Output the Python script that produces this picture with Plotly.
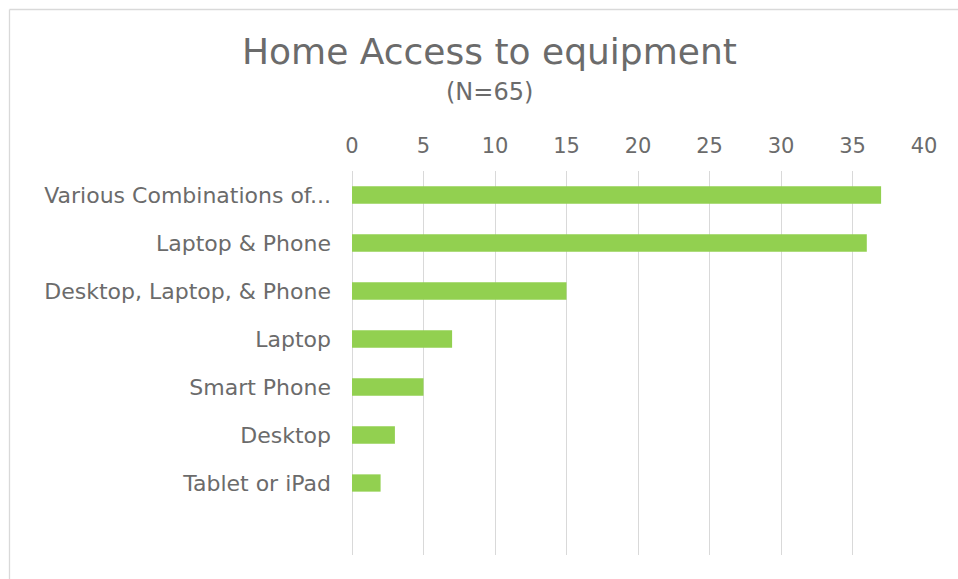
import plotly.graph_objects as go

# Home equipment access survey (N=65)
categories = [
    "Various Combinations of...",
    "Laptop & Phone",
    "Desktop, Laptop, & Phone",
    "Laptop",
    "Smart Phone",
    "Desktop",
    "Tablet or iPad",
]
counts = [37, 36, 15, 7, 5, 3, 2]
x_ticks = [0, 5, 10, 15, 20, 25, 30, 35, 40]

W, H = 958, 579
L, R, T, B = 352, 34, 171, 24
pw, ph = W - L - R, H - T - B

def px_x(p):
    return (p - L) / pw

def px_y(p):
    return (H - B - p) / ph

FONT = "DejaVu Sans"
TEXT = "#6b6b6b"
GRID = "#d9d9d9"

fig = go.Figure(
    go.Bar(
        x=counts,
        y=categories,
        orientation="h",
        marker=dict(color="#92d050", line=dict(width=0)),
        width=0.36,
    )
)

fig.update_layout(
    width=W,
    height=H,
    margin=dict(l=L, r=R, t=T, b=B, pad=0),
    paper_bgcolor="white",
    plot_bgcolor="white",
    showlegend=False,
    font=dict(family=FONT, color=TEXT),
    xaxis=dict(
        side="top",
        range=[0, 40],
        tickvals=x_ticks,
        ticktext=[str(v) for v in x_ticks],
        showgrid=True,
        gridcolor=GRID,
        gridwidth=1.3,
        zeroline=True,
        zerolinecolor=GRID,
        zerolinewidth=1.3,
        showline=False,
        ticks="",
        tickfont=dict(size=21, color=TEXT, family=FONT),
        ticklabelstandoff=13,
    ),
    yaxis=dict(
        type="category",
        categoryorder="array",
        categoryarray=categories,
        range=[7.5, -0.5],
        showgrid=False,
        zeroline=False,
        showline=False,
        ticks="",
        tickfont=dict(size=22, color=TEXT, family=FONT),
        ticklabelstandoff=20,
    ),
    shapes=[
        # outer chart frame: top and left edges
        dict(type="line", xref="paper", yref="paper",
             x0=px_x(9.5), x1=px_x(W + 5), y0=px_y(9.5), y1=px_y(9.5),
             line=dict(color=GRID, width=1.3)),
        dict(type="line", xref="paper", yref="paper",
             x0=px_x(9.5), x1=px_x(9.5), y0=px_y(9.5), y1=px_y(H + 5),
             line=dict(color=GRID, width=1.3)),
    ],
    annotations=[
        dict(text="Home Access to equipment", xref="paper", yref="paper",
             x=px_x(489), y=px_y(51), xanchor="center", yanchor="middle",
             showarrow=False, font=dict(size=36, color=TEXT, family=FONT)),
        dict(text="(N=65)", xref="paper", yref="paper",
             x=px_x(489), y=px_y(92), xanchor="center", yanchor="middle",
             showarrow=False, font=dict(size=24, color=TEXT, family=FONT)),
    ],
)

fig.write_html("out.html")
